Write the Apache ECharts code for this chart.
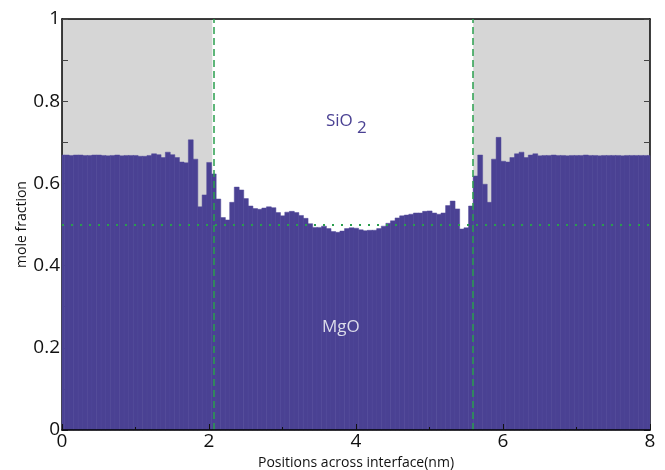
<!DOCTYPE html>
<html>
<head>
<meta charset="utf-8">
<script src="https://cdn.jsdelivr.net/npm/echarts@6/dist/echarts.min.js"></script>
<style>
  html, body { margin: 0; padding: 0; background: #fff; }
  #main { width: 665px; height: 470px; }
</style>
</head>
<body>
<div id="main"></div>
<script>
// bin width of the profile (nm), bars are centred on i * binWidth
const binWidth = 0.0625
const moleFraction = [
  0.669, 0.669, 0.668, 0.669, 0.669, 0.668, 0.668, 0.669, 0.669, 0.668,
  0.667, 0.668, 0.669, 0.667, 0.668, 0.668, 0.668, 0.666, 0.666, 0.668,
  0.672, 0.670, 0.663, 0.676, 0.670, 0.663, 0.652, 0.650, 0.706, 0.659,
  0.543, 0.572, 0.651, 0.623, 0.562, 0.517, 0.511, 0.554, 0.591, 0.584,
  0.563, 0.545, 0.539, 0.537, 0.540, 0.543, 0.541, 0.529, 0.521, 0.530,
  0.532, 0.529, 0.522, 0.515, 0.502, 0.493, 0.493, 0.496, 0.490, 0.483,
  0.481, 0.484, 0.490, 0.492, 0.491, 0.487, 0.485, 0.486, 0.486, 0.490,
  0.496, 0.503, 0.509, 0.516, 0.521, 0.523, 0.525, 0.528, 0.528, 0.532,
  0.533, 0.528, 0.525, 0.528, 0.546, 0.557, 0.538, 0.489, 0.492, 0.545,
  0.618, 0.669, 0.598, 0.554, 0.659, 0.712, 0.654, 0.652, 0.663, 0.672,
  0.676, 0.663, 0.669, 0.672, 0.667, 0.668, 0.668, 0.669, 0.668, 0.668,
  0.667, 0.668, 0.668, 0.668, 0.669, 0.668, 0.668, 0.667, 0.668, 0.668,
  0.668, 0.668, 0.667, 0.668, 0.668, 0.668, 0.668, 0.668, 0.668
]
const positions = moleFraction.map((v, i) => i * binWidth)
// interface boundaries (nm) and reference level
const interfaceLines = [2.065, 5.59]
const bulkRegions = [[0, 2.045], [5.595, 8]]
const refLevel = 0.5

const font = 'Open Sans'
const myChart = echarts.init(document.getElementById('main'))

const tickStyle = { color: '#444', width: 1 }

// histogram bar, cut to the plot area so the edge bins show only half
function renderBin(params, api) {
  const x = api.value(0)
  const top = api.coord([x - binWidth / 2, api.value(1)])
  const bottom = api.coord([x + binWidth / 2, 0])
  const shape = echarts.graphic.clipRectByRect({
    x: top[0],
    y: top[1],
    width: bottom[0] - top[0] + 0.3,
    height: bottom[1] - top[1]
  }, params.coordSys)
  return shape && {
    type: 'rect',
    shape: shape,
    style: { fill: '#4a4193', stroke: '#524a9b', lineWidth: 0.5 }
  }
}

const option = {
  animation: false,
  textStyle: { fontFamily: font },
  grid: { left: 62, right: 15, top: 19, bottom: 40, outerBoundsMode: 'none', containLabel: false },
  xAxis: [{
    type: 'value',
    min: 0,
    max: 8,
    interval: 2,
    z: 6,
    name: 'Positions across interface(nm)',
    nameLocation: 'middle',
    nameGap: 22,
    nameTextStyle: { fontSize: 14, color: '#111', fontFamily: font },
    axisLine: { show: true, onZero: false, lineStyle: { color: '#000', width: 1.5 } },
    axisTick: { show: true, inside: true, length: 6, lineStyle: { color: '#111', width: 1 } },
    minorTick: { show: true, splitNumber: 2, length: 3, lineStyle: { color: '#111', width: 1 } },
    splitLine: { show: false },
    axisLabel: { fontSize: 19, margin: 2, color: '#111', fontFamily: font }
  }, {
    type: 'value',
    min: 0,
    max: 8,
    position: 'top',
    z: 2,
    axisLine: { show: true, onZero: false, lineStyle: { color: '#000', width: 1.5 } },
    axisTick: { show: false },
    axisLabel: { show: false },
    splitLine: { show: false }
  }],
  yAxis: [{
    type: 'value',
    min: 0,
    max: 1,
    interval: 0.2,
    z: 2,
    name: 'mole fraction',
    nameLocation: 'middle',
    nameRotate: 90,
    nameGap: 33,
    nameMoveOverlap: false,
    nameTextStyle: { fontSize: 14, color: '#111', fontFamily: font },
    axisLine: { show: true, onZero: false, lineStyle: { color: '#000', width: 1.5 } },
    axisTick: { show: true, inside: true, length: 6, lineStyle: tickStyle },
    minorTick: { show: true, splitNumber: 2, length: 6, lineStyle: tickStyle },
    splitLine: { show: false },
    axisLabel: { fontSize: 19, margin: 2, color: '#111', fontFamily: font }
  }, {
    type: 'value',
    min: 0,
    max: 1,
    interval: 0.2,
    position: 'right',
    z: 2,
    axisLine: { show: true, onZero: false, lineStyle: { color: '#000', width: 1.5 } },
    axisTick: { show: true, inside: true, length: 6, lineStyle: tickStyle },
    minorTick: { show: true, splitNumber: 2, length: 6, lineStyle: tickStyle },
    splitLine: { show: false },
    axisLabel: { show: false }
  }],
  series: [
    {
      // holder for the grey bulk regions and guide lines
      type: 'line',
      data: [[0, 0]],
      showSymbol: false,
      lineStyle: { width: 0 },
      silent: true,
      markArea: {
        silent: true,
        z: 1,
        itemStyle: { color: '#d6d6d6' },
        data: bulkRegions.map(r => [{ xAxis: r[0], yAxis: 0 }, { xAxis: r[1], yAxis: 1 }])
      },
      markLine: {
        silent: true,
        symbol: 'none',
        z: 5,
        label: { show: false },
        data: [
          ...interfaceLines.map(x => ({
            xAxis: x,
            lineStyle: { color: '#2a9e4e', width: 1.5, type: [7, 4] }
          })),
          {
            yAxis: refLevel,
            lineStyle: { color: '#2a9e4e', width: 2, type: [2, 7] }
          }
        ]
      }
    },
    {
      type: 'custom',
      renderItem: renderBin,
      data: positions.map((x, i) => [x, moleFraction[i]]),
      encode: { x: 0, y: 1 },
      z: 3,
      silent: true
    }
  ],
  graphic: [
    {
      type: 'text', x: 326, y: 121, z: 10,
      style: { text: 'SiO', fill: '#4a4193', font: '17px "Open Sans"', textVerticalAlign: 'middle', verticalAlign: 'middle' }
    },
    {
      type: 'text', x: 357, y: 128, z: 10,
      style: { text: '2', fill: '#4a4193', font: '17px "Open Sans"', textVerticalAlign: 'middle', verticalAlign: 'middle' }
    },
    {
      type: 'text', x: 322, y: 327, z: 10,
      style: { text: 'MgO', fill: '#dcdcea', font: '17px "Open Sans"', textVerticalAlign: 'middle', verticalAlign: 'middle' }
    }
  ]
}

myChart.setOption(option)
window.onresize = function () {
  myChart.resize()
}
</script>
</body>
</html>
